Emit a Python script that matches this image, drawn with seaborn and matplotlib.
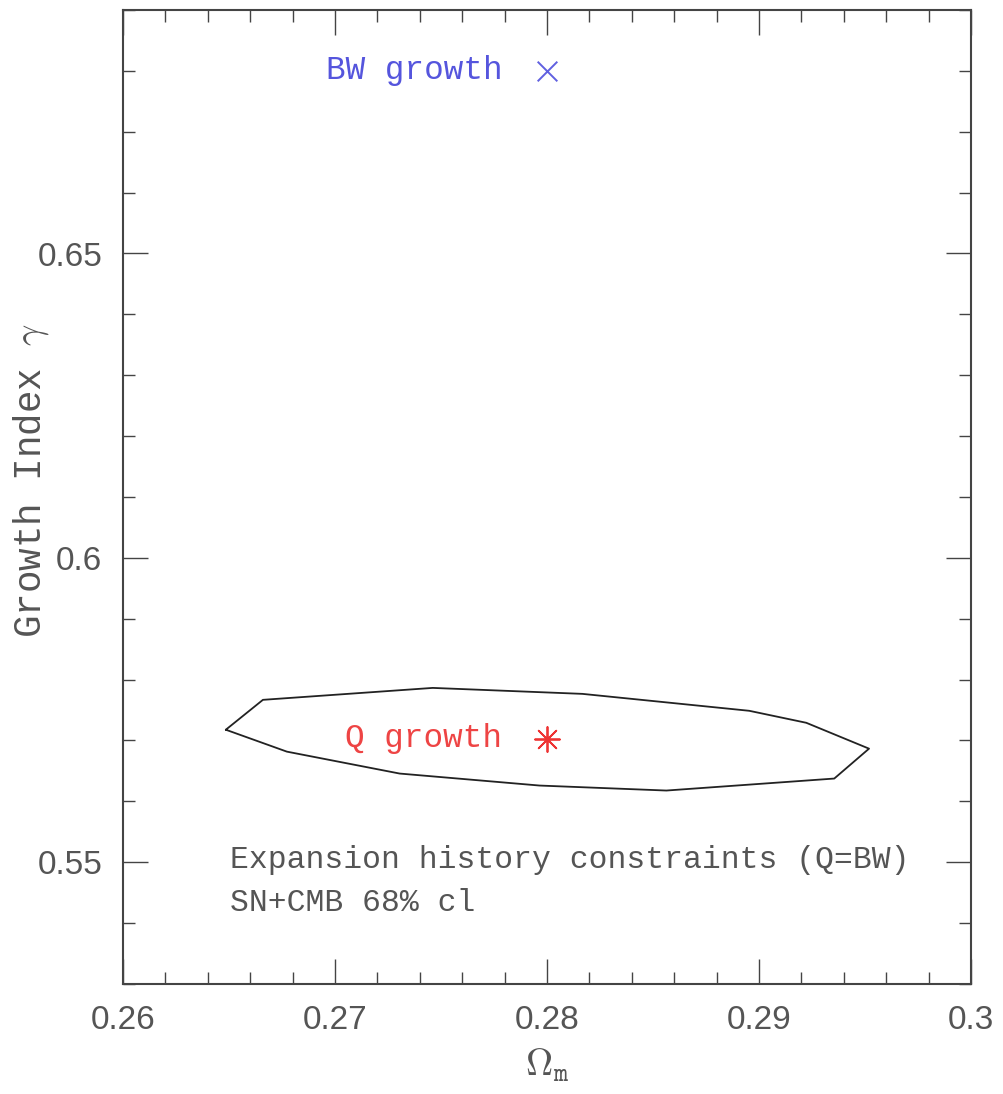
import matplotlib
matplotlib.use("Agg")
import matplotlib.pyplot as plt
import seaborn as sns
import pandas as pd
from matplotlib.ticker import MultipleLocator

# ---- data ----
contour_om = [0.26485, 0.26660, 0.27461, 0.28167, 0.28954, 0.29223, 0.29519,
              0.29355, 0.28563, 0.27965, 0.27305, 0.26773, 0.26485]
contour_gamma = [0.57177, 0.57668, 0.57864, 0.57766, 0.57488, 0.57291, 0.56866,
                 0.56375, 0.56178, 0.56260, 0.56457, 0.56817, 0.57177]
q_point = (0.28, 0.5703)
bw_point = (0.28, 0.680)
q_label = "Q growth"
bw_label = "BW growth"
note_lines = ["Expansion history constraints (Q=BW)", "SN+CMB 68% cl"]
x_ticks = [0.26, 0.27, 0.28, 0.29, 0.30]
x_ticklabels = ["0.26", "0.27", "0.28", "0.29", "0.3"]
y_ticks = [0.55, 0.60, 0.65]
y_ticklabels = ["0.55", "0.6", "0.65"]

sns.set_style("ticks")
plt.rcParams['mathtext.fontset'] = 'cm'

fig = plt.figure(figsize=(10.04, 10.94), dpi=100)
ax = fig.add_axes([123/1004, 1 - 984/1094, (971-123)/1004, (984-10)/1094])

df = pd.DataFrame({"om": contour_om, "gamma": contour_gamma})
sns.lineplot(data=df, x="om", y="gamma", sort=False, estimator=None, ax=ax,
             color="#222222", linewidth=1.3)

qdf = pd.DataFrame({"om": [q_point[0]], "gamma": [q_point[1]]})
sns.scatterplot(data=qdf, x="om", y="gamma", marker=(8, 2, 0), s=320, color="#ee3333",
                linewidth=1.3, edgecolor="#ee3333", ax=ax)
bdf = pd.DataFrame({"om": [bw_point[0]], "gamma": [bw_point[1]]})
sns.scatterplot(data=bdf, x="om", y="gamma", marker="x", s=200, color="#6060e0",
                linewidth=1.4, ax=ax)

mono = "Liberation Mono"
ax.text(0.27790, q_point[1], q_label, ha="right", va="center", fontsize=23.5,
        family=mono, color="#ee4444")
ax.text(0.27790, bw_point[1], bw_label, ha="right", va="center", fontsize=23.5,
        family=mono, color="#5555dd")
ax.text(0.26504, 0.55033, note_lines[0], ha="left", va="center", fontsize=22.6,
        family=mono, color="#555555")
ax.text(0.26504, 0.5433, note_lines[1], ha="left", va="center", fontsize=22.6,
        family=mono, color="#555555")

ax.set_xlim(0.26, 0.30)
ax.set_ylim(0.53, 0.69)
ax.set_xticks(x_ticks)
ax.set_xticklabels(x_ticklabels)
ax.set_yticks(y_ticks)
ax.set_yticklabels(y_ticklabels)
ax.xaxis.set_minor_locator(MultipleLocator(0.002))
ax.yaxis.set_minor_locator(MultipleLocator(0.01))
ax.tick_params(which="both", direction="in", top=True, right=True, colors="#444444",
               labelcolor="#555555", labelsize=24, width=1.0)
ax.tick_params(which="major", length=18, pad=15)
ax.tick_params(which="minor", length=8.5)
for lab in ax.get_xticklabels() + ax.get_yticklabels():
    lab.set_family("Liberation Sans")
for sp in ax.spines.values():
    sp.set_color("#444444")
    sp.set_linewidth(1.5)

ax.set_xlabel(r"$\Omega_{\mathtt{m}}$", fontsize=27, color="#555555", labelpad=8)
ax.set_ylabel(r"Growth Index $\gamma$", fontsize=27, family=mono, color="#555555")
ax.yaxis.set_label_coords(-0.108, 0.517)
ax.yaxis.label.set_va("center")

fig.savefig("out.png", dpi=100)
